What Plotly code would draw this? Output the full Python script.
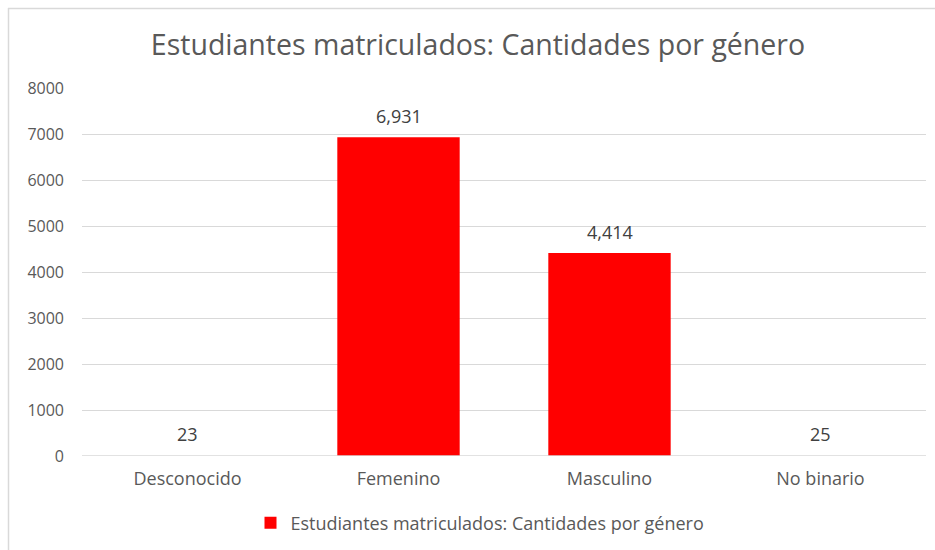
import plotly.graph_objects as go

categories = ["Desconocido", "Femenino", "Masculino", "No binario"]
values = [23, 6931, 4414, 25]
series_name = "Estudiantes matriculados: Cantidades por género"
title_text = "Estudiantes matriculados: Cantidades por género"
y_ticks = [0, 1000, 2000, 3000, 4000, 5000, 6000, 7000, 8000]

W, H = 935, 550
L, R, T, B = 82, 9, 88, 94
pw, ph = W - L - R, H - T - B
Y_MAX = 8000

def px_x(p):
    return (p - L) / pw

def px_y(p):
    return (H - B - p) / ph

font_family = "Open Sans, Noto Sans, sans-serif"
grey = "#595959"
grid = "#D9D9D9"

fig = go.Figure()
fig.add_trace(go.Bar(
    x=categories,
    y=values,
    name=series_name,
    marker=dict(color="#FF0000", line=dict(width=0)),
    showlegend=True,
))

for c, v in zip(categories, values):
    fig.add_annotation(
        x=c, y=v, xref="x", yref="y",
        text=f"{v:,}", showarrow=False,
        yanchor="bottom", yshift=7,
        font=dict(size=18, color="#404040", family=font_family),
    )

shapes = []
# tiny bars (≈1px tall) are hidden under the baseline gridline, as in the reference
for i, v in enumerate(values):
    if v / Y_MAX * ph < 3:
        shapes.append(dict(
            type="line", xref="x", yref="y",
            x0=i - 0.45, x1=i + 0.45, y0=0, y1=0,
            line=dict(color="white", width=5), layer="above",
        ))
shapes.append(dict(
    type="line", xref="paper", yref="y",
    x0=0, x1=1, y0=0, y1=0,
    line=dict(color=grid, width=1.5), layer="above",
))
# chart frame: top and left edges visible
shapes.append(dict(
    type="line", xref="paper", yref="paper",
    x0=px_x(8), x1=px_x(940), y0=px_y(8.5), y1=px_y(8.5),
    line=dict(color=grid, width=1.5), layer="below",
))
shapes.append(dict(
    type="line", xref="paper", yref="paper",
    x0=px_x(8.5), x1=px_x(8.5), y0=px_y(8), y1=px_y(560),
    line=dict(color=grid, width=1.5), layer="below",
))

fig.update_layout(
    width=W, height=H,
    margin=dict(l=L, r=R, t=T, b=B, autoexpand=False),
    paper_bgcolor="white",
    plot_bgcolor="white",
    bargap=0.42,
    font=dict(family=font_family, color=grey),
    title=dict(
        text=title_text,
        x=478 / W, xanchor="center",
        y=1 - 45 / H, yanchor="middle",
        font=dict(size=28.5, color=grey, family=font_family),
    ),
    xaxis=dict(
        showgrid=False,
        showline=False,
        ticks="",
        ticklabelstandoff=10,
        tickfont=dict(size=18, color=grey),
    ),
    yaxis=dict(
        range=[0, Y_MAX],
        tickvals=y_ticks,
        ticktext=[str(t) for t in y_ticks],
        showgrid=True,
        gridcolor=grid,
        gridwidth=1,
        zeroline=False,
        showline=False,
        ticks="",
        ticklabelstandoff=17,
        tickfont=dict(size=16, color=grey),
    ),
    legend=dict(
        orientation="h",
        x=px_x(480), xanchor="center",
        y=px_y(523), yanchor="middle",
        font=dict(size=18, color=grey),
        itemwidth=30,
    ),
    shapes=shapes,
)

fig.write_html(
    "out.html",
    config={"displayModeBar": False},
    post_script="document.body.style.margin='0';",
)
